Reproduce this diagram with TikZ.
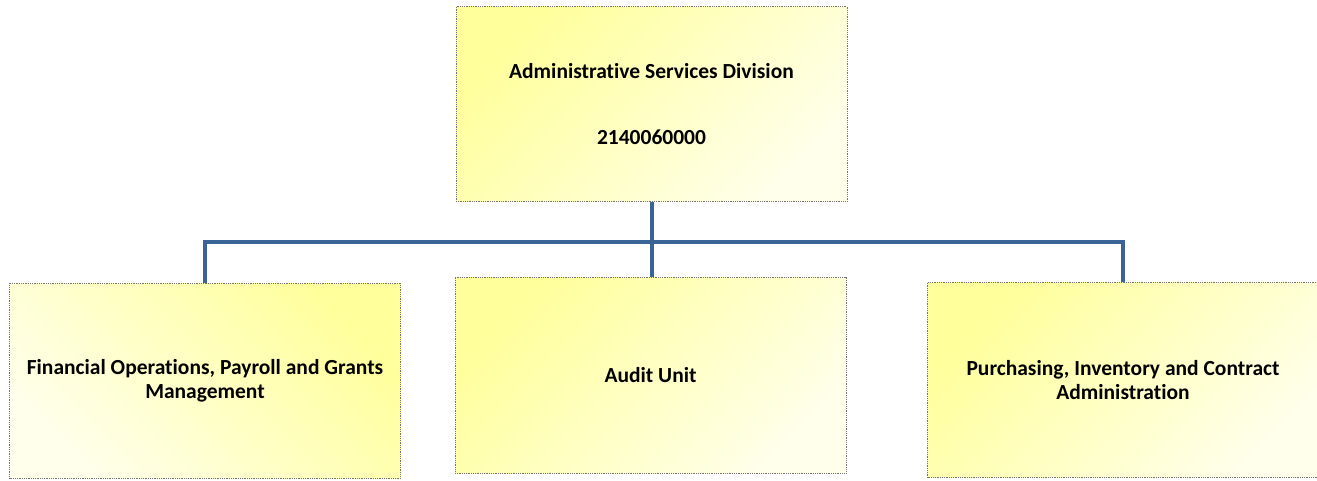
\documentclass[tikz,border=0pt]{standalone}
\usepackage{fontspec}
\setmainfont{Carlito}[Ligatures=NoCommon]
\definecolor{ylA}{RGB}{255,255,155}
\definecolor{ylB}{RGB}{255,255,235}
\definecolor{conn}{RGB}{58,100,150}
\begin{document}
\begin{tikzpicture}[x=1pt,y=-1pt,
  unitbox/.style={draw=black!55, densely dotted, line width=0.8pt,
    top color=ylA, bottom color=ylB, shading angle=#1,
    minimum width=391pt, minimum height=195pt, inner sep=0pt,
    align=center, font=\fontsize{21.5}{24}\selectfont\bfseries, text=black},
  unitbox/.default=45,
  link/.style={draw=conn, line width=3.2pt}]
\useasboundingbox (0,0) rectangle (1317,481);
\node[unitbox] (top) at (651.5,104) {Administrative Services Division\\[42pt]2140060000};
\node[unitbox=-45] (fin) at (205,380.5) {Financial Operations, Payroll and Grants\\Management};
\node[unitbox, minimum height=196pt] (aud) at (650.5,375) {Audit Unit};
\node[unitbox] (pur) at (1123,380) {Purchasing, Inventory and Contract\\Administration};
\coordinate (j) at (652,242);
\draw[link] (top.south -| j) -- (j);
\draw[link] (j) -| (fin.north);
\draw[link] (j) -| (pur.north);
\draw[link] (j) -- (aud.north -| j);
\end{tikzpicture}
\end{document}
